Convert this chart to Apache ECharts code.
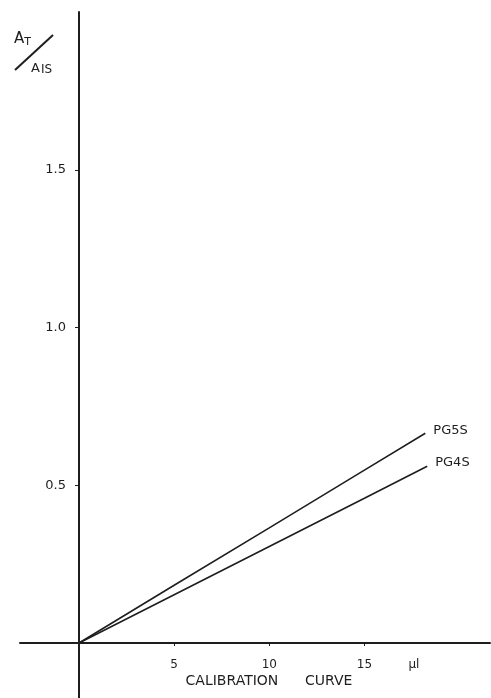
<!DOCTYPE html>
<html>
<head>
<meta charset="utf-8">
<script src="https://cdn.jsdelivr.net/npm/echarts@6/dist/echarts.min.js"></script>
<style>
html,body{margin:0;padding:0;background:#fff;}
#c{width:491px;height:698px;}
</style>
</head>
<body>
<div id="c"></div>
<script>
// Data
const seriesNames = ['PG5S', 'PG4S'];
const xPG5S = [0, 5, 10, 15, 18.2];
const yPG5S = [0, 0.183, 0.365, 0.548, 0.665];
const xPG4S = [0, 5, 10, 15, 18.3];
const yPG4S = [0, 0.153, 0.306, 0.459, 0.56];
const xTicks = [5, 10, 15];
const xUnitPos = 17.6;
const xUnitLabel = 'µl';
const yTicks = [0.5, 1.0, 1.5];
const xTitle = 'CALIBRATION      CURVE';

const ink = '#1e1e1e';
const font = 'DejaVu Sans';

function pairs(xs, ys) { return xs.map((x, i) => [x, ys[i]]); }

const chart = echarts.init(document.getElementById('c'), null, {renderer: 'canvas'});
const option = {
  backgroundColor: '#fff',
  animation: false,
  grid: [
    {left: 79, right: 1, top: 12, bottom: 55, containLabel: false, outerBoundsMode: 'none'},
    {left: 20, right: 1, top: 12, bottom: 0, containLabel: false, outerBoundsMode: 'none'}
  ],
  xAxis: [
    {
      type: 'value', gridIndex: 0, min: 0, max: 21.6,
      axisLine: {show: false},
      axisTick: {show: true, customValues: xTicks, length: 3, lineStyle: {color: ink, width: 1}},
      axisLabel: {
        customValues: xTicks.concat([xUnitPos]),
        margin: 16, color: ink, fontFamily: font, fontSize: 12,
        formatter: v => (v === xUnitPos ? xUnitLabel : String(v))
      },
      splitLine: {show: false}
    },
    {
      type: 'value', gridIndex: 1, min: -3.1, max: 21.6,
      axisLine: {show: true, onZero: true, lineStyle: {color: ink, width: 2}},
      axisTick: {show: false}, axisLabel: {show: false}, splitLine: {show: false}
    }
  ],
  yAxis: [
    {
      type: 'value', gridIndex: 0, min: 0, max: 2.0,
      axisLine: {show: false},
      axisTick: {show: true, customValues: yTicks, length: 4, lineStyle: {color: ink, width: 1}},
      axisLabel: {
        customValues: yTicks, margin: 13, color: ink, fontFamily: font, fontSize: 13,
        formatter: v => v.toFixed(1)
      },
      splitLine: {show: false}
    },
    {
      type: 'value', gridIndex: 1, min: -0.174, max: 2.0,
      axisLine: {show: true, onZero: true, lineStyle: {color: ink, width: 2}},
      axisTick: {show: false}, axisLabel: {show: false}, splitLine: {show: false}
    }
  ],
  series: [
    {
      name: seriesNames[0], type: 'line', xAxisIndex: 0, yAxisIndex: 0, data: pairs(xPG5S, yPG5S),
      showSymbol: false, symbol: 'none',
      lineStyle: {color: ink, width: 1.6},
      endLabel: {show: true, formatter: '{a}', distance: 8, offset: [0, -3], color: ink, fontFamily: font, fontSize: 13}
    },
    {
      name: seriesNames[1], type: 'line', xAxisIndex: 0, yAxisIndex: 0, data: pairs(xPG4S, yPG4S),
      showSymbol: false, symbol: 'none',
      lineStyle: {color: ink, width: 1.6},
      endLabel: {show: true, formatter: '{a}', distance: 8, offset: [0, -4], color: ink, fontFamily: font, fontSize: 13}
    }
  ],
  graphic: [
    {type: 'text', x: 269, y: 681, style: {text: xTitle, fill: ink, font: '14px ' + font, textAlign: 'center', textVerticalAlign: 'middle'}},
    {type: 'text', x: 14, y: 31, style: {text: '{a|A}{s|T}', rich: {a: {fontSize: 15, fontFamily: font, fill: ink, color: ink}, s: {fontSize: 11, fontFamily: font, fill: ink, color: ink, padding: [6, 0, 0, 0]}}, fill: ink}},
    {type: 'line', shape: {x1: 15, y1: 70, x2: 53, y2: 35}, style: {stroke: ink, lineWidth: 2}},
    {type: 'text', x: 31, y: 61, style: {text: '{a|A}{s|IS}', rich: {a: {fontSize: 13, fontFamily: font, fill: ink, color: ink}, s: {fontSize: 12, fontFamily: font, fill: ink, color: ink, padding: [3, 0, 0, 1]}}, fill: ink}}
  ]
};
chart.setOption(option);
</script>
</body>
</html>
